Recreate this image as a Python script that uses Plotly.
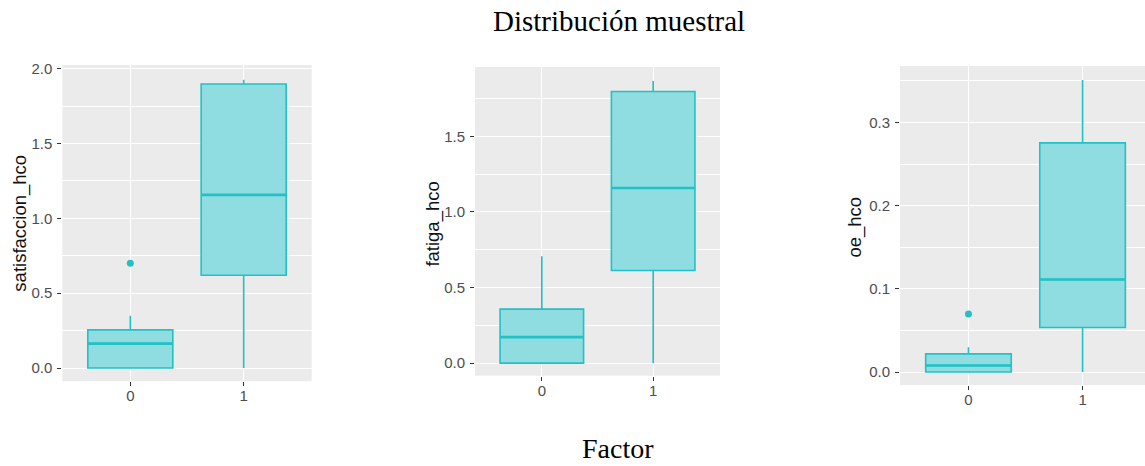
import plotly.graph_objects as go

# Group labels on the x axis
groups = [0, 1]
group_labels = ["0", "1"]

# satisfaccion_hco: box statistics per group
sat_q1 = [0.0, 0.62]
sat_median = [0.163, 1.157]
sat_q3 = [0.255, 1.897]
sat_low = [0.0, 0.0]
sat_high = [0.35, 1.925]
sat_outlier_x = [0]
sat_outlier_y = [0.70]

# fatiga_hco
fat_q1 = [0.0, 0.613]
fat_median = [0.172, 1.158]
fat_q3 = [0.357, 1.796]
fat_low = [0.0, 0.0]
fat_high = [0.706, 1.866]
fat_outlier_x = []
fat_outlier_y = []

# oe_hco
oe_q1 = [0.0, 0.0535]
oe_median = [0.0079, 0.1113]
oe_q3 = [0.0218, 0.2755]
oe_low = [0.0, 0.0]
oe_high = [0.0297, 0.351]
oe_outlier_x = [0]
oe_outlier_y = [0.0698]

panels = [
    dict(name="satisfaccion_hco", q1=sat_q1, med=sat_median, q3=sat_q3, lo=sat_low, hi=sat_high,
         ox=sat_outlier_x, oy=sat_outlier_y),
    dict(name="fatiga_hco", q1=fat_q1, med=fat_median, q3=fat_q3, lo=fat_low, hi=fat_high,
         ox=fat_outlier_x, oy=fat_outlier_y),
    dict(name="oe_hco", q1=oe_q1, med=oe_median, q3=oe_q3, lo=oe_low, hi=oe_high,
         ox=oe_outlier_x, oy=oe_outlier_y),
]

W, H = 1145, 466
FILL = "#8FDDE0"
LINE = "#22C1C5"
PANEL_BG = "#EBEBEB"
SANS = "Liberation Sans, Arial, sans-serif"
SERIF = "Liberation Serif, Times New Roman, serif"


def px_x(v):
    return v / W


def px_y(v):
    return (H - v) / H


# Plot-area rectangles in pixels: (left, right, top, bottom)
boxes_px = [(62.3, 311.7, 60.7, 380.3), (475, 720, 62.7, 374.7), (900, 1145, 61.7, 384.3)]
y_ranges = [[-0.088, 2.024], [-0.083, 1.958], [-0.0158, 0.3678]]
x_ranges = [[-0.6, 1.6], [-0.6, 1.6], [-0.6, 1.547]]
y_dticks = [0.5, 0.5, 0.1]
title_pos = [(20, 221), (433, 222), (855, 225)]

fig = go.Figure()

for i, p in enumerate(panels):
    ax = "" if i == 0 else str(i + 1)
    fig.add_trace(go.Box(
        x=groups, q1=p["q1"], median=p["med"], q3=p["q3"],
        lowerfence=p["lo"], upperfence=p["hi"],
        width=0.75, whiskerwidth=0, boxpoints=False,
        fillcolor=FILL, line=dict(color=LINE, width=1.6),
        xaxis="x" + ax, yaxis="y" + ax, showlegend=False, hoverinfo="skip",
    ))
    # thicker median bar, as in ggplot boxplots
    for g, m in zip(groups, p["med"]):
        fig.add_trace(go.Scatter(
            x=[g - 0.375, g + 0.375], y=[m, m], mode="lines",
            line=dict(color=LINE, width=2.6), xaxis="x" + ax, yaxis="y" + ax,
            showlegend=False, hoverinfo="skip",
        ))
    if p["ox"]:
        fig.add_trace(go.Scatter(
            x=p["ox"], y=p["oy"], mode="markers",
            marker=dict(color=LINE, size=7),
            xaxis="x" + ax, yaxis="y" + ax, showlegend=False, hoverinfo="skip",
        ))

    l, r, t, b = boxes_px[i]
    fig.layout["xaxis" + ax] = dict(
        domain=[px_x(l), px_x(r)], range=x_ranges[i], anchor="y" + ax,
        tickvals=groups, ticktext=group_labels,
        showgrid=True, gridcolor="white", gridwidth=1.3, zeroline=False,
        ticks="outside", ticklen=4, tickwidth=1, tickcolor="#333333",
        ticklabelstandoff=-3,
        tickfont=dict(family=SANS, size=15, color="#4D4D4D"),
        showline=False, fixedrange=True,
    )
    fig.layout["yaxis" + ax] = dict(
        domain=[px_y(b), px_y(t)], range=y_ranges[i], anchor="x" + ax,
        dtick=y_dticks[i], tick0=0, tickformat=".1f",
        showgrid=True, gridcolor="white", gridwidth=1.3, zeroline=False,
        minor=dict(dtick=y_dticks[i] / 2, tick0=0, showgrid=True, gridcolor="white", gridwidth=0.6),
        ticks="outside", ticklen=4, tickwidth=1, tickcolor="#333333",
        ticklabelstandoff=2,
        tickfont=dict(family=SANS, size=15, color="#4D4D4D"),
        showline=False, fixedrange=True,
    )
    tx, ty = title_pos[i]
    fig.add_annotation(
        text=p["name"], x=px_x(tx), y=px_y(ty), xref="paper", yref="paper",
        textangle=-90, showarrow=False, xanchor="center", yanchor="middle",
        font=dict(family=SANS, size=18.5, color="#111111"),
    )

fig.add_annotation(
    text="Distribución muestral", x=px_x(619), y=px_y(16.5), xref="paper", yref="paper",
    showarrow=False, xanchor="center", yanchor="middle",
    font=dict(family=SERIF, size=29, color="#000000"),
)
fig.add_annotation(
    text="Factor", x=px_x(618), y=px_y(448.5), xref="paper", yref="paper",
    showarrow=False, xanchor="center", yanchor="middle",
    font=dict(family=SERIF, size=28, color="#000000"),
)

fig.update_layout(
    width=W, height=H, margin=dict(l=0, r=0, t=0, b=0),
    paper_bgcolor="white", plot_bgcolor=PANEL_BG,
    showlegend=False,
)

fig.write_html("out.html", config=dict(displayModeBar=False))
